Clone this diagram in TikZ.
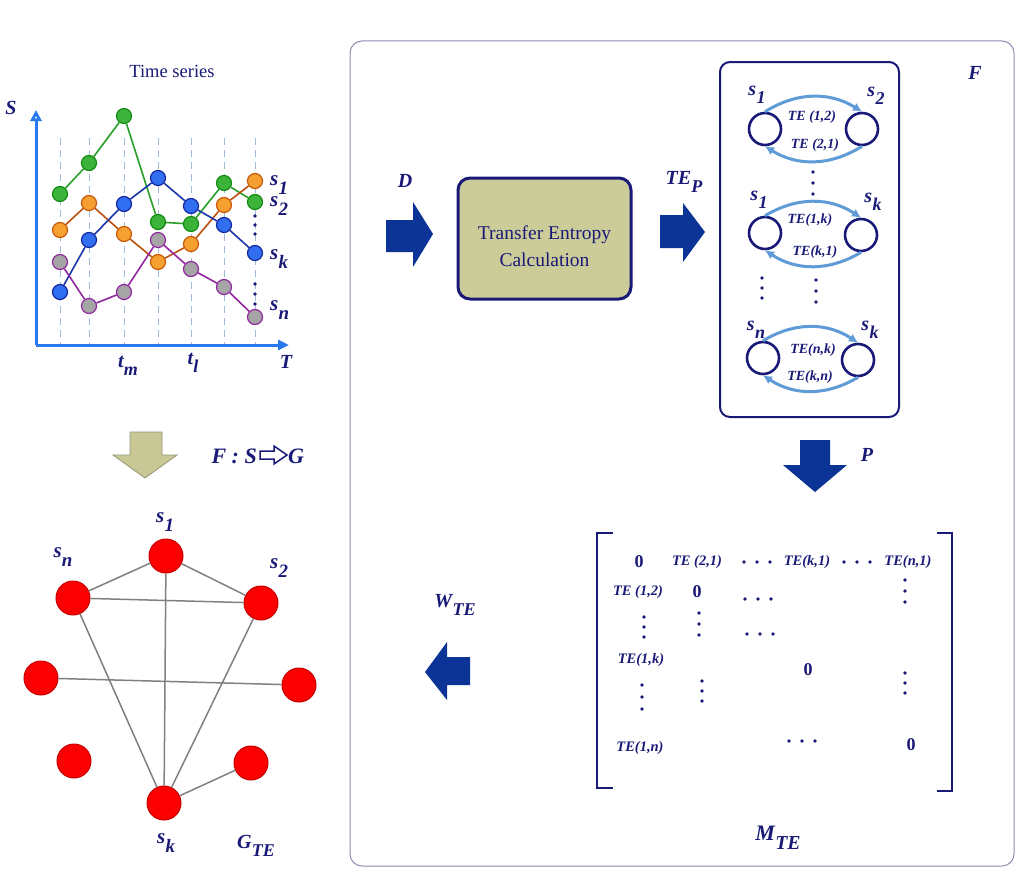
\documentclass[tikz,border=0pt]{standalone}
\usepackage{fontspec}
\setmainfont{Liberation Serif}
\usepackage{graphicx}
\usetikzlibrary{arrows.meta}
\definecolor{navy}{RGB}{25,25,120}
\definecolor{axblue}{RGB}{40,120,240}
\definecolor{dashc}{RGB}{160,185,220}
\definecolor{blk}{RGB}{12,52,150}
\definecolor{khaki}{RGB}{204,204,153}
\definecolor{tanf}{RGB}{200,200,150}
\definecolor{tand}{RGB}{150,150,120}
\definecolor{teblue}{RGB}{95,155,215}
\definecolor{panelc}{RGB}{140,140,180}
\definecolor{gfill}{RGB}{60,180,60}
\definecolor{gdraw}{RGB}{20,140,20}
\definecolor{gln}{RGB}{40,160,40}
\definecolor{ofill}{RGB}{245,160,48}
\definecolor{odraw}{RGB}{200,90,10}
\definecolor{oln}{RGB}{190,80,15}
\definecolor{bfill}{RGB}{50,110,240}
\definecolor{bdraw}{RGB}{20,40,160}
\definecolor{bln}{RGB}{25,55,170}
\definecolor{pfill}{RGB}{165,165,165}
\definecolor{pdraw}{RGB}{145,40,160}
\definecolor{rfill}{RGB}{250,0,0}
\definecolor{rdraw}{RGB}{200,0,0}
\definecolor{edgec}{RGB}{128,128,128}
\newcommand\lbsub[2]{#1\kern.3pt\raisebox{-.42em}{\scalebox{.9}{#2}}}
\newcommand\hdts[2]{\foreach \d in {-13,0,13} \fill[navy] ({#1+\d},#2) circle (1.8);}
\newcommand\vdts[3]{\foreach \d in {-1,0,1} \fill[navy] (#1,{#2+#3*\d}) circle (1.8);}
\tikzset{
  lab/.style={font=\fontsize{#1}{#1}\selectfont\bfseries\itshape, text=navy, inner sep=0},
  lab/.default=21,
  telab/.style={font=\fontsize{14}{15}\selectfont\bfseries\itshape, text=navy, inner sep=0},
  mte/.style={font=\fontsize{14.5}{15}\selectfont\bfseries\itshape, text=navy, inner sep=0},
  zero/.style={font=\fontsize{18}{18}\selectfont\bfseries, text=navy, inner sep=0},
  pt/.style={circle, minimum size=15pt, inner sep=0, line width=1.2pt},
  gpt/.style={pt, fill=gfill, draw=gdraw},
  opt/.style={pt, fill=ofill, draw=odraw},
  bpt/.style={pt, fill=bfill, draw=bdraw},
  ppt/.style={pt, fill=pfill, draw=pdraw},
  gline/.style={line width=1.6pt, draw=gln},
  oline/.style={line width=1.6pt, draw=oln},
  bline/.style={line width=1.6pt, draw=bln},
  pline/.style={line width=1.6pt, draw=pdraw},
  rnode/.style={circle, minimum size=34pt, inner sep=0, fill=rfill, draw=rdraw, line width=1pt},
  gedge/.style={draw=edgec, line width=1.5pt},
  tcirc/.style={circle, minimum size=32pt, inner sep=0, draw=navy, line width=2.6pt, fill=white},
  tearrow/.style={draw=teblue, line width=3pt, -{Latex[length=9pt,width=9pt]}},
  blkarrow/.style={fill=blk, draw=none},
}
\begin{document}
\begin{tikzpicture}[x=1pt,y=-1pt]
\useasboundingbox (0,0) rectangle (1024,891);
\fill[white] (0,0) rectangle (1024,891);

% ---------- time series ----------
\node[font=\fontsize{18.5}{20}\selectfont, text=navy] (ttl) at (172,71) {Time series};
\foreach \x in {60,89,124,158,191,224,255}
  \draw[dashc, dash pattern=on 7pt off 5pt, line width=1pt] (\x,138) -- (\x,345);
\coordinate (O) at (36,345);
\coordinate (Ytop) at (36,110);
\coordinate (Xend) at (289,345);
\draw[axblue, line width=3pt, -{Triangle[open,length=11pt,width=11pt]}] (O) -- (Ytop);
\draw[axblue, line width=3pt, -{Triangle[length=11pt,width=10pt]}] (O) -- (Xend);
\node[lab=20] (S) at (11,108) {S};
\node[lab=20] (T) at (286,362) {T};
\node[lab=20] (tm) at (128,366) {\lbsub{t}{m}};
\node[lab=20] (tl) at (193,363) {\lbsub{t}{l}};

\foreach \x/\y [count=\i] in {60/194,89/163,124/116,158/222,191/224,224/183,255/202}
  \node[gpt] (g\i) at (\x,\y) {};
\foreach \x/\y [count=\i] in {60/230,89/203,124/234,158/262,191/244,224/205,255/181}
  \node[opt] (o\i) at (\x,\y) {};
\foreach \x/\y [count=\i] in {60/292,89/240,124/204,158/178,191/206,224/225,255/253}
  \node[bpt] (b\i) at (\x,\y) {};
\foreach \x/\y [count=\i] in {60/262,89/306,124/292,158/240,191/269,224/287,255/317}
  \node[ppt] (p\i) at (\x,\y) {};
\draw[gline] (g1)--(g2)--(g3)--(g4)--(g5)--(g6)--(g7);
\draw[oline] (o1)--(o2)--(o3)--(o4)--(o5)--(o6)--(o7);
\draw[bline] (b1)--(b2)--(b3)--(b4)--(b5)--(b6)--(b7);
\draw[pline] (p1)--(p2)--(p3)--(p4)--(p5)--(p6)--(p7);
\vdts{255}{225}{9}
\vdts{255}{294}{10}
\node[lab, anchor=west] (ls1) at (270,185) {\lbsub{s}{1}};
\node[lab, anchor=west] (ls2) at (270,206) {\lbsub{s}{2}};
\node[lab, anchor=west] (lsk) at (270,259) {\lbsub{s}{k}};
\node[lab, anchor=west] (lsn) at (270,310) {\lbsub{s}{n}};

% ---------- mapping arrow ----------
\draw[fill=tanf, draw=tand, line width=0.8pt]
  (130,432) -- (162,432) -- (162,455) -- (177,455) -- (145,478) -- (113,455) -- (130,455) -- cycle;
\node[lab=22, anchor=east] (FS) at (257,456) {F : S};
\node[lab=22, anchor=west] (G) at (288,456) {G};
\draw[navy, fill=white, line width=1.5pt]
  (260,451) -- (274,451) -- (274,446) -- (287,455) -- (274,464) -- (274,459) -- (260,459) -- cycle;

% ---------- graph ----------
\node[rnode] (n1) at (166,556) {};
\node[rnode] (nn) at (73,598) {};
\node[rnode] (n2) at (261,603) {};
\node[rnode] (nl) at (41,678) {};
\node[rnode] (nr) at (299,685) {};
\node[rnode] (nll) at (74,761) {};
\node[rnode] (nlr) at (251,763) {};
\node[rnode] (nk) at (164,803) {};
\draw[gedge] (n1) -- (nn);
\draw[gedge] (n1) -- (n2);
\draw[gedge] (nn) -- (n2);
\draw[gedge] (n1) -- (nk);
\draw[gedge] (nn) -- (nk);
\draw[gedge] (n2) -- (nk);
\draw[gedge] (nl) -- (nr);
\draw[gedge] (nk) -- (nlr);
\node[lab] (gs1) at (165,522) {\lbsub{s}{1}};
\node[lab] (gsn) at (63,557) {\lbsub{s}{n}};
\node[lab] (gs2) at (279,568) {\lbsub{s}{2}};
\node[lab] (gsk) at (166,843) {\lbsub{s}{k}};
\node[lab=20] (gte) at (256,846) {\lbsub{G}{TE}};

% ---------- right panel ----------
\draw[panelc, line width=1pt, rounded corners=12pt] (350,41) rectangle (1014,866);
\node[lab=20] (D) at (405,181) {D};
\fill[blkarrow] (386,220) -- (413,220) -- (413,202) -- (433,234) -- (413,267) -- (413,252) -- (386,252) -- cycle;
\node[draw=navy, line width=3pt, fill=khaki, rounded corners=12pt, minimum width=173pt, minimum height=121pt,
  align=center, text=navy, font=\fontsize{19.5}{27}\selectfont] (tec) at (544.5,238.5) {\rule{0pt}{30pt}Transfer Entropy\\Calculation};
\node[lab=20] (TEP) at (684,182) {\lbsub{TE}{P}};
\fill[blkarrow] (660,215) -- (683,215) -- (683,203) -- (705,232) -- (683,262) -- (683,248) -- (660,248) -- cycle;

\draw[navy, line width=2pt, rounded corners=10pt] (720,62) rectangle (899,417);
\node[lab=20] (F) at (975,73) {F};

\node[tcirc] (c1a) at (765,129) {};
\node[tcirc] (c1b) at (862,129) {};
\node[tcirc] (c2a) at (765,233) {};
\node[tcirc] (c2b) at (861,235) {};
\node[tcirc] (c3a) at (763,358) {};
\node[tcirc] (c3b) at (858,360) {};
\draw[tearrow] (c1a.north) to[bend left=32] (c1b.north);
\draw[tearrow] (c1b.south) to[bend left=32] (c1a.south);
\draw[tearrow] (c2a.north) to[bend left=32] (c2b.north);
\draw[tearrow] (c2b.south) to[bend left=32] (c2a.south);
\draw[tearrow] (c3a.north) to[bend left=32] (c3b.north);
\draw[tearrow] (c3b.south) to[bend left=32] (c3a.south);
\node[lab=20] (bs1) at (757,95) {\lbsub{s}{1}};
\node[lab=20] (bs2) at (876,96) {\lbsub{s}{2}};
\node[lab=20] (bs1b) at (759,200) {\lbsub{s}{1}};
\node[lab=20] (bsk) at (873,202) {\lbsub{s}{k}};
\node[lab=20] (bsn) at (756,330) {\lbsub{s}{n}};
\node[lab=20] (bskb) at (870,330) {\lbsub{s}{k}};
\node[telab] (t12) at (812,117) {TE (1,2)};
\node[telab] (t21) at (815,145) {TE (2,1)};
\node[telab] (t1k) at (810,220) {TE(1,k)};
\node[telab] (tk1) at (815,252) {TE(k,1)};
\node[telab] (tnk) at (813,350) {TE(n,k)};
\node[telab] (tkn) at (810,377) {TE(k,n)};
\vdts{813}{183}{11}
\vdts{762}{288}{10}
\vdts{816}{291}{11}

% P arrow
\fill[blkarrow] (800,440) -- (830,440) -- (830,465) -- (847,465) -- (815,492) -- (783,465) -- (800,465) -- cycle;
\node[lab=20] (P) at (867,455) {P};

% ---------- matrix ----------
\draw[navy, line width=2.5pt] (613,533) -- (597,533) -- (597,788) -- (613,788);
\draw[navy, line width=2.5pt] (937,533) -- (952,533) -- (952,791) -- (937,791);
\node[zero] (m11) at (639,562) {0};
\node[mte] (m12) at (697,562) {TE (2,1)};
\node[mte] (m1k) at (807,562) {TE(k,1)};
\node[mte] (m1n) at (908,562) {TE(n,1)};
\node[mte] (m21) at (638,592) {TE (1,2)};
\node[zero] (m22) at (697,592) {0};
\node[mte] (mk1) at (641,660) {TE(1,k)};
\node[zero] (mkk) at (808,670) {0};
\node[mte] (mn1) at (640,748) {TE(1,n)};
\node[zero] (mnn) at (911,745) {0};
\hdts{757}{562}
\hdts{857}{562}
\hdts{758}{599}
\hdts{760}{634}
\hdts{802}{741}
\vdts{905}{591}{11}
\vdts{644}{627}{10}
\vdts{699}{624}{11}
\vdts{905}{683}{10}
\vdts{642}{697}{12}
\vdts{702}{691}{10}
\node[lab=22] (MTE) at (778,838) {\lbsub{M}{TE}};

% W arrow
\node[lab=20] (WTE) at (455,605) {\lbsub{W}{TE}};
\fill[blkarrow] (470,657) -- (447,657) -- (447,642) -- (425,672) -- (447,700) -- (447,685) -- (470,685) -- cycle;
\end{tikzpicture}
\end{document}
